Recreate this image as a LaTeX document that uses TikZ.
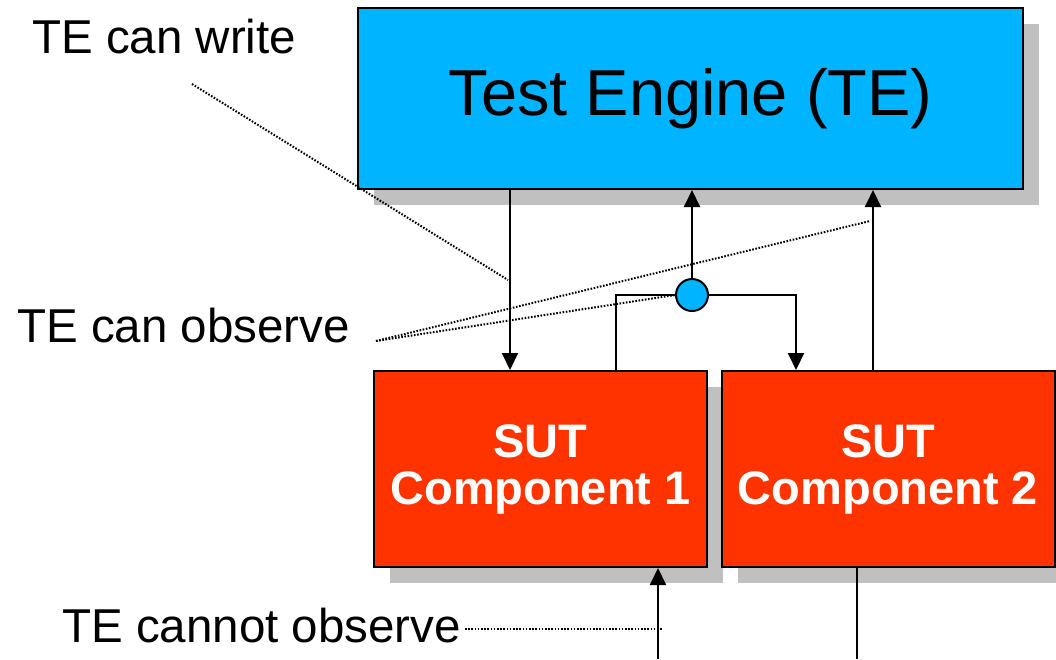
\documentclass[tikz,border=0pt]{standalone}
\usepackage{fontspec}
\setmainfont{Liberation Sans}
\usetikzlibrary{arrows.meta,shadows}
\definecolor{teblue}{RGB}{0,180,255}
\definecolor{sutred}{RGB}{255,51,0}
\definecolor{shade}{RGB}{192,192,192}
\begin{document}
\begin{tikzpicture}[x=1pt,y=-1pt,
  boxshadow/.style={drop shadow={shadow xshift=16pt,shadow yshift=-16pt,fill=shade,opacity=1}},
  engine/.style={draw=black,line width=2pt,fill=teblue,inner sep=0pt,
    minimum width=665pt,minimum height=181pt,boxshadow,
    font=\fontsize{65}{70}\selectfont},
  sut/.style={draw=black,line width=2pt,fill=sutred,inner sep=0pt,
    minimum width=333pt,minimum height=196pt,boxshadow,align=center,
    text=white,font=\fontsize{47}{47}\selectfont\bfseries},
  hubnode/.style={circle,draw=black,line width=2pt,fill=teblue,
    minimum size=32pt,inner sep=0pt},
  label/.style={anchor=base west,inner sep=0pt,font=\fontsize{47.5}{55}\selectfont},
  conn/.style={line width=2pt,black},
  arr/.style={conn,-{Triangle[length=17pt,width=16pt]}},
  leader/.style={line width=2pt,dash pattern=on 1.6pt off 1.6pt}]
\useasboundingbox (0,0) rectangle (1056,659);

% components
\node[engine] (te) at (690.5,98.5) {Test Engine (TE)};
\node[sut] (sut1) at (540.5,469) {SUT\\Component 1};
\node[sut] (sut2) at (888,469) {SUT\\Component 2};
\node[hubnode] (hub) at (692,295) {};

% annotations
\node[label] (lwrite) at (32,53) {TE can write};
\node[label] (lobs) at (17,342) {TE can observe};
\node[label] (lnobs) at (62,642) {TE cannot observe};

% signal paths
\draw[arr] (te.south -| 510,0) -- (sut1.north -| 510,0);
\draw[arr] (hub.north) -- (te.south -| hub.north);
\draw[conn] (sut1.north -| 616,0) |- (hub.west);
\draw[arr] (hub.east) -| (sut2.north -| 796,0);
\draw[arr] (sut2.north -| 873,0) -- (te.south -| 873,0);
\coordinate (inbot) at (658,659);
\coordinate (outbot) at (857,659);
\draw[arr] (inbot) -- (sut1.south -| inbot);
\draw[conn] (sut2.south -| outbot) -- (outbot);

% leader lines
\coordinate (w0) at (192,84);
\coordinate (w1) at (508,280);
\coordinate (o0) at (376,341);
\coordinate (o1) at (870,221);
\coordinate (n0) at (465,629);
\coordinate (n1) at (662,629);
\draw[leader] (w0) -- (w1);
\draw[leader] (o0) -- (o1);
\draw[leader] (o0) -- (hub.west);
\draw[leader] (n0) -- (n1);
\end{tikzpicture}
\end{document}
